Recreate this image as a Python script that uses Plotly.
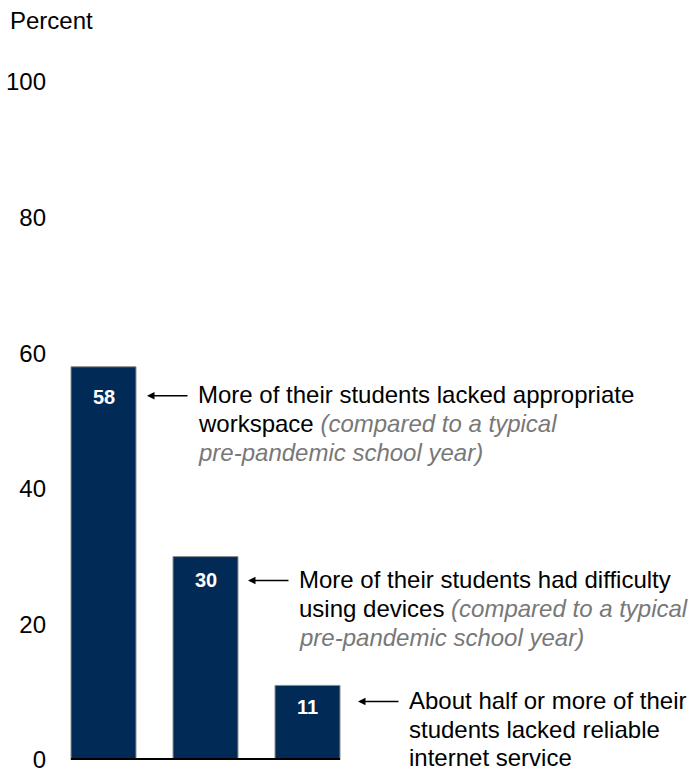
import plotly.graph_objects as go

categories = ["workspace", "devices", "internet"]
values = [58, 30, 11]
main_lines = [
    ["More of their students lacked appropriate", "workspace "],
    ["More of their students had difficulty", "using devices "],
    ["About half or more of their", "students lacked reliable", "internet service"],
]
note_lines = [
    ["", "(compared to a typical", "pre-pandemic school year)"],
    ["", "(compared to a typical", "pre-pandemic school year)"],
    ["", "", ""],
]
y_ticks = [0, 20, 40, 60, 80, 100]

# styling / layout constants (pixels)
label_dy = [-30, -23, -22]     # value label offset below bar top
callout_dy = [-28, -23, -15]   # arrow / first text line offset below bar top
arrow_dx = [11, 10, 18]        # gap between bar edge and arrow head

BAR_COLOR = "#012a57"
GRAY = "#787878"
FONT = "Arial, Liberation Sans, sans-serif"
bar_width = 0.637
xs = list(range(len(categories)))

fig = go.Figure()
fig.add_trace(go.Bar(
    x=xs, y=values, width=bar_width,
    marker=dict(color=BAR_COLOR, line=dict(color="#8c8c8c", width=1)),
    hoverinfo="skip",
))

annotations = []
for i, v in enumerate(values):
    annotations.append(dict(
        x=i, y=v, xref="x", yref="y", text=f"<b>{v}</b>", showarrow=False,
        yshift=label_dy[i], font=dict(color="white", size=20, family=FONT),
    ))
    annotations.append(dict(
        x=i + bar_width / 2, y=v, xref="x", yref="y", text="",
        showarrow=True, arrowhead=2, arrowsize=1, arrowwidth=1.5, arrowcolor="black",
        ax=42, ay=0, xshift=arrow_dx[i], yshift=callout_dy[i] - 1, standoff=0,
    ))
    n = max(len(main_lines[i]), len(note_lines[i]))
    for j in range(n):
        m = main_lines[i][j] if j < len(main_lines[i]) else ""
        nt = note_lines[i][j] if j < len(note_lines[i]) else ""
        txt = m
        if nt:
            txt += f"<i><span style='color:{GRAY}'>{nt}</span></i>"
        annotations.append(dict(
            x=i + bar_width / 2, y=v, xref="x", yref="y", text=txt,
            showarrow=False, xanchor="left", yanchor="middle", align="left",
            xshift=arrow_dx[i] + 49, yshift=callout_dy[i] - 28.7 * j,
            font=dict(color="black", size=24, family=FONT),
        ))

annotations.append(dict(
    x=0, y=1, xref="paper", yref="paper", text="Percent", showarrow=False,
    xanchor="left", yanchor="middle", xshift=-46, yshift=62,
    font=dict(color="black", size=24, family=FONT),
))

fig.update_layout(
    template="none",
    width=690, height=769,
    margin=dict(l=54, r=1, t=82, b=9, autoexpand=False),
    paper_bgcolor="white", plot_bgcolor="white",
    showlegend=False,
    font=dict(family=FONT, size=24, color="black"),
    xaxis=dict(range=[-0.4853, 5.740], showticklabels=False, showgrid=False,
               zeroline=False, showline=False, fixedrange=True, automargin=False),
    yaxis=dict(range=[0, 100], tickvals=y_ticks, showgrid=False, zeroline=False,
               showline=False, ticks="", ticklabelstandoff=7, automargin=False,
               ticklabeloverflow="allow",
               tickfont=dict(size=24, color="black", family=FONT)),
    annotations=annotations,
    shapes=[dict(type="line", xref="x", yref="y",
                 x0=-bar_width / 2, x1=len(values) - 1 + bar_width / 2,
                 y0=0, y1=0, line=dict(color="black", width=4))],
)

fig.write_html(
    "out.html",
    config={"displayModeBar": False},
    post_script="document.body.style.margin='0';document.body.style.overflow='hidden';",
)
